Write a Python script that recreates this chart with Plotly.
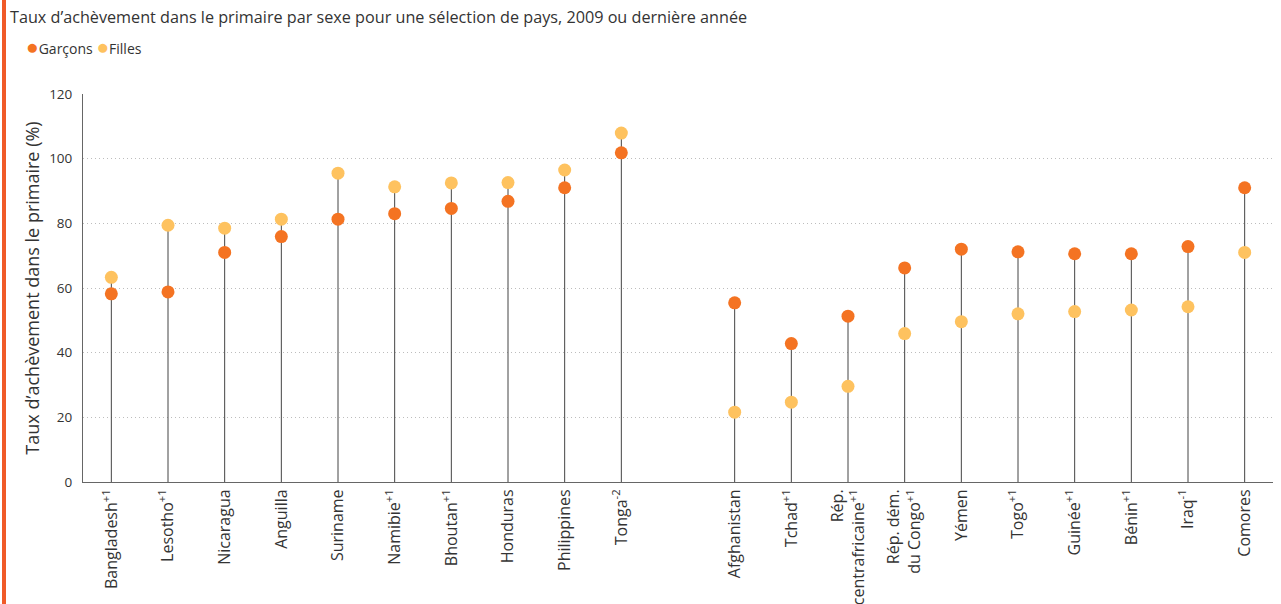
import plotly.graph_objects as go

# Data
group1 = ["Bangladesh<sup>+1</sup>", "Lesotho<sup>+1</sup>", "Nicaragua", "Anguilla", "Suriname",
          "Namibie<sup>+1</sup>", "Bhoutan<sup>+1</sup>", "Honduras", "Philippines", "Tonga<sup>-2</sup>"]
group2 = ["Afghanistan", "Tchad<sup>+1</sup>", "Rép.<br>centrafricaine<sup>+1</sup>",
          "Rép. dém.<br>du Congo<sup>+1</sup>", "Yémen", "Togo<sup>+1</sup>", "Guinée<sup>+1</sup>",
          "Bénin<sup>+1</sup>", "Iraq<sup>-1</sup>", "Comores"]

garcons1 = [58.2, 58.8, 71.0, 75.9, 81.3, 83.0, 84.6, 86.8, 91.0, 101.8]
filles1 = [63.3, 79.4, 78.5, 81.3, 95.5, 91.3, 92.5, 92.6, 96.5, 107.9]
garcons2 = [55.4, 42.8, 51.3, 66.2, 72.0, 71.2, 70.6, 70.6, 72.8, 91.0]
filles2 = [21.6, 24.7, 29.6, 45.9, 49.6, 52.0, 52.7, 53.2, 54.2, 71.0]

y_ticks = [0, 20, 40, 60, 80, 100, 120]

labels = group1 + group2
garcons = garcons1 + garcons2
filles = filles1 + filles2
# positions: one empty slot between the two groups
xpos = list(range(len(group1))) + [len(group1) + 1 + i for i in range(len(group2))]

C_G = "#F47322"
C_F = "#FEC25F"

stem_x, stem_y = [], []
for x, g, f in zip(xpos, garcons, filles):
    stem_x += [x, x, None]
    stem_y += [0, max(g, f), None]

fig = go.Figure()
fig.add_trace(go.Scatter(x=stem_x, y=stem_y, mode="lines",
                         line=dict(color="#444444", width=1),
                         showlegend=False, hoverinfo="skip"))
fig.add_trace(go.Scatter(x=xpos, y=garcons, mode="markers", name="Garçons", showlegend=False,
                         marker=dict(color=C_G, size=13, line=dict(width=0))))
fig.add_trace(go.Scatter(x=xpos, y=filles, mode="markers", name="Filles", showlegend=False,
                         marker=dict(color=C_F, size=13, line=dict(width=0))))

FONT = "Open Sans"
L, R, T, B = 83, 8, 94, 122
H = 604
plot_h = H - T - B
plot_w = 1281 - L - R

def px_x(p):
    return (p - L) / plot_w

def px_y(p):
    return (H - B - p) / plot_h

legend_text = (f"<span style='color:{C_G};font-size:21px'>●</span>Garçons "
               f"<span style='color:{C_F};font-size:21px'>●</span>Filles")

fig.update_layout(
    width=1281, height=604,
    margin=dict(l=L, r=R, t=T, b=B),
    paper_bgcolor="white", plot_bgcolor="white",
    font=dict(family=FONT, size=13, color="#333333"),
    showlegend=False,
    xaxis=dict(range=[-0.5, 20.5], tickmode="array", tickvals=xpos, ticktext=labels,
               tickangle=-90, showgrid=False, zeroline=False, showline=True,
               linecolor="#666666", linewidth=1, ticks="", automargin=False,
               tickfont=dict(family=FONT, size=16, color="#333333")),
    yaxis=dict(range=[0, 120], tickvals=y_ticks, showgrid=True, gridcolor="#bdbdbd",
               griddash="1px,3px", gridwidth=1, zeroline=False, showline=True,
               linecolor="#666666", linewidth=1, ticks="", ticklabelstandoff=7,
               automargin=False,
               tickfont=dict(family=FONT, size=13.5, color="#333333"),
               title=dict(text="Taux d’achèvement dans le primaire (%)", standoff=4,
                          font=dict(family=FONT, size=18, color="#333333"))),
    shapes=[dict(type="rect", xref="paper", yref="paper",
                 x0=px_x(2), x1=px_x(6), y0=px_y(604), y1=px_y(0),
                 fillcolor="#F05A28", line=dict(width=0), layer="above")],
    annotations=[
        dict(text="Taux d’achèvement dans le primaire par sexe pour une sélection de pays, 2009 ou dernière année",
             xref="paper", yref="paper", x=px_x(8), y=px_y(17), xanchor="left",
             yanchor="middle", showarrow=False,
             font=dict(family=FONT, size=16.2, color="#333333")),
        dict(text=legend_text, xref="paper", yref="paper", x=px_x(24), y=px_y(46),
             xanchor="left", yanchor="middle", showarrow=False,
             font=dict(family=FONT, size=14, color="#333333")),
    ],
)

fig.write_html("out.html", config={"displayModeBar": False},
               post_script="document.body.style.margin='0';")
